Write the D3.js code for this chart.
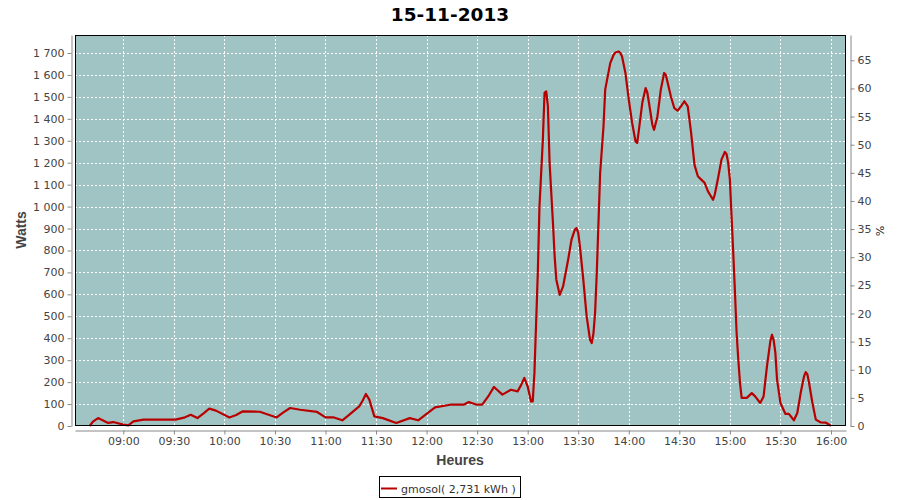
<!DOCTYPE html>
<html>
<head>
<meta charset="utf-8">
<script src="https://cdn.jsdelivr.net/npm/d3@7"></script>
<style>
  html, body { margin: 0; padding: 0; background: #ffffff; }
  svg { display: block; }
  text { font-family: "DejaVu Sans", sans-serif; }
</style>
</head>
<body>
<svg id="chart" width="900" height="500"></svg>
<script>
// ---------------- data ----------------
const title = "15-11-2013";
const seriesName = "gmosol( 2,731 kWh )";
const times = [
  "08:40","08:42","08:45","08:51","08:54","09:00","09:03","09:06","09:12","09:31","09:36","09:40",
  "09:44","09:48","09:51","09:55","10:03","10:07","10:11","10:21","10:31","10:35","10:39","10:45","10:55",
  "11:00","11:05","11:10","11:14","11:17","11:20","11:22","11:24","11:26","11:29","11:34","11:42","11:50",
  "11:55","12:00","12:05","12:14","12:22","12:25","12:30","12:33","12:37","12:40","12:45","12:50",
  "12:54","12:56","12:58","13:00","13:02","13:03","13:04","13:06","13:07","13:09","13:10","13:11",
  "13:12","13:13","13:15","13:16","13:17","13:19","13:21","13:24","13:26","13:28","13:29",
  "13:30","13:31","13:33","13:35","13:37","13:38","13:39","13:40","13:41","13:42","13:43","13:45",
  "13:46","13:49","13:51","13:52","13:54","13:55","13:56","13:58","14:00","14:02","14:04","14:05",
  "14:06","14:08","14:10","14:11","14:12","14:14","14:15","14:17","14:19","14:21","14:22",
  "14:25","14:27","14:29","14:31","14:33","14:35","14:37","14:39","14:41","14:43",
  "14:45","14:47","14:50","14:51","14:53","14:55","14:57","14:58","14:59","15:00","15:01",
  "15:02","15:03","15:04","15:05","15:06","15:07","15:10","15:13","15:15","15:18",
  "15:20","15:22","15:24","15:25","15:26","15:27","15:28","15:30","15:33","15:35","15:38",
  "15:40","15:42","15:44","15:45","15:46","15:47","15:49","15:51","15:54","15:57","16:00"
];
const watts = [
  0,20,36,14,18,6,3,21,29,29,38,51,
  36,60,79,70,39,50,67,65,39,62,82,74,64,
  39,39,26,51,70,89,115,146,120,44,36,14,36,
  26,55,85,97,97,109,97,97,140,178,143,165,
  158,185,219,180,112,112,242,697,1001,1305,1518,1525,
  1457,1199,925,773,667,598,636,758,849,895,902,
  880,819,667,500,393,378,420,515,697,925,1153,1366,
  1533,1654,1692,1702,1707,1700,1684,1609,1487,1381,1297,1290,
  1350,1472,1540,1520,1472,1373,1350,1411,1533,1609,1600,
  1502,1449,1437,1457,1480,1457,1336,1190,1138,1123,
  1108,1069,1031,1054,1130,1214,1249,1240,1199,1123,955,
  789,613,424,302,196,128,128,150,135,105,
  135,272,386,416,390,333,211,105,55,55,26,
  59,150,226,246,235,196,105,29,16,15,1
];
const xTickLabels = ["09:00","09:30","10:00","10:30","11:00","11:30","12:00","12:30","13:00","13:30","14:00","14:30","15:00","15:30","16:00"];
const leftTicks = [0,100,200,300,400,500,600,700,800,900,1000,1100,1200,1300,1400,1500,1600,1700];
const rightTicks = [0,5,10,15,20,25,30,35,40,45,50,55,60,65];
const xDomain = ["08:31:20","16:08:55"];
const leftMax = 1782;
const rightMax = 69.5;

// ---------------- layout ----------------
const svg = d3.select("#chart");
const P = { left: 75, right: 846, top: 35, bottom: 426 };
const parseHM = d3.timeParse("%H:%M");
const parseHMS = d3.timeParse("%H:%M:%S");

const x = d3.scaleTime()
  .domain(xDomain.map(parseHMS))
  .range([P.left, P.right]);
const y = d3.scaleLinear().domain([0, leftMax]).range([P.bottom, P.top]);
const y2 = d3.scaleLinear().domain([0, rightMax]).range([P.bottom, P.top]);

const locale = d3.formatLocale({ decimal: ",", thousands: " ", grouping: [3], currency: ["", ""] });
const fmtLeft = locale.format(",d");

const data = times.map((t, i) => ({ t: parseHM(t), v: watts[i] }));
const xTicks = xTickLabels.map(parseHM);

// title
svg.append("text")
  .attr("x", 450).attr("y", 20.5)
  .attr("text-anchor", "middle")
  .style("font-size", "18.5px").style("font-weight", "bold")
  .attr("fill", "#000")
  .text(title);

// plot background
svg.append("rect")
  .attr("x", P.left).attr("y", P.top)
  .attr("width", P.right - P.left).attr("height", P.bottom - P.top)
  .attr("fill", "#a0c4c4");

// grid
const grid = svg.append("g");
grid.selectAll("line.h").data(leftTicks.filter(d => d > 0)).join("line")
  .attr("x1", P.left).attr("x2", P.right)
  .attr("y1", d => Math.round(y(d)) + 0.5).attr("y2", d => Math.round(y(d)) + 0.5)
  .attr("stroke", "#ffffff").attr("stroke-width", 1).attr("stroke-dasharray", "2,2");
grid.selectAll("line.v").data(xTicks).join("line")
  .attr("y1", P.top).attr("y2", P.bottom)
  .attr("x1", d => Math.round(x(d)) + 0.5).attr("x2", d => Math.round(x(d)) + 0.5)
  .attr("stroke", "#ffffff").attr("stroke-width", 1).attr("stroke-dasharray", "2,2");

// line
const line = d3.line().x(d => x(d.t)).y(d => y(d.v));
svg.append("path")
  .datum(data)
  .attr("d", line)
  .attr("fill", "none")
  .attr("stroke", "#b80000")
  .attr("stroke-width", 2.2)
  .attr("stroke-linejoin", "round");

// plot border
svg.append("rect")
  .attr("x", P.left + 0.5).attr("y", P.top + 0.5)
  .attr("width", P.right - P.left - 1).attr("height", P.bottom - P.top - 1)
  .attr("fill", "none").attr("stroke", "#000").attr("stroke-width", 1);

// axes
function styleAxis(g) {
  g.select(".domain").attr("stroke", "#888");
  g.selectAll(".tick line").attr("stroke", "#888");
  g.selectAll(".tick text").attr("fill", "#444")
    .style("font-family", "'DejaVu Sans', sans-serif").style("font-size", "11px");
}

const leftAxis = d3.axisLeft(y).tickValues(leftTicks).tickFormat(fmtLeft).tickSize(4).tickSizeOuter(0).tickPadding(3);
svg.append("g").attr("transform", "translate(71.5,0)").call(leftAxis).call(styleAxis);

const bottomAxis = d3.axisBottom(x).tickValues(xTicks).tickFormat(d3.timeFormat("%H:%M")).tickSize(4).tickSizeOuter(0).tickPadding(3);
svg.append("g").attr("transform", "translate(0,430.5)").call(bottomAxis).call(styleAxis);

const rightAxis = d3.axisRight(y2).tickValues(rightTicks).tickSize(4).tickSizeOuter(0).tickPadding(3);
svg.append("g").attr("transform", "translate(850.5,0)").call(rightAxis).call(styleAxis);

// axis titles
svg.append("text")
  .attr("transform", "translate(26,230) rotate(-90)")
  .attr("text-anchor", "middle")
  .style("font-size", "14px").style("font-weight", "bold")
  .style("font-family", "'Liberation Sans', sans-serif")
  .attr("fill", "#444")
  .text("Watts");
svg.append("text")
  .attr("x", 460).attr("y", 465)
  .attr("text-anchor", "middle")
  .style("font-size", "14px").style("font-weight", "bold")
  .style("font-family", "'Liberation Sans', sans-serif")
  .attr("fill", "#444")
  .text("Heures");
svg.append("text")
  .attr("transform", "translate(876,231) rotate(90)")
  .attr("text-anchor", "middle")
  .style("font-size", "11px")
  .attr("fill", "#222")
  .text("%");

// legend
const lg = svg.append("g");
lg.append("rect")
  .attr("x", 379.5).attr("y", 476.5).attr("width", 141).attr("height", 21)
  .attr("fill", "#fff").attr("stroke", "#000").attr("stroke-width", 1);
lg.append("line")
  .attr("x1", 381).attr("x2", 397).attr("y1", 488.5).attr("y2", 488.5)
  .attr("stroke", "#b80000").attr("stroke-width", 2);
lg.append("text")
  .attr("x", 401).attr("y", 492.5)
  .style("font-size", "11px")
  .attr("fill", "#333")
  .text(seriesName);
</script>
</body>
</html>
